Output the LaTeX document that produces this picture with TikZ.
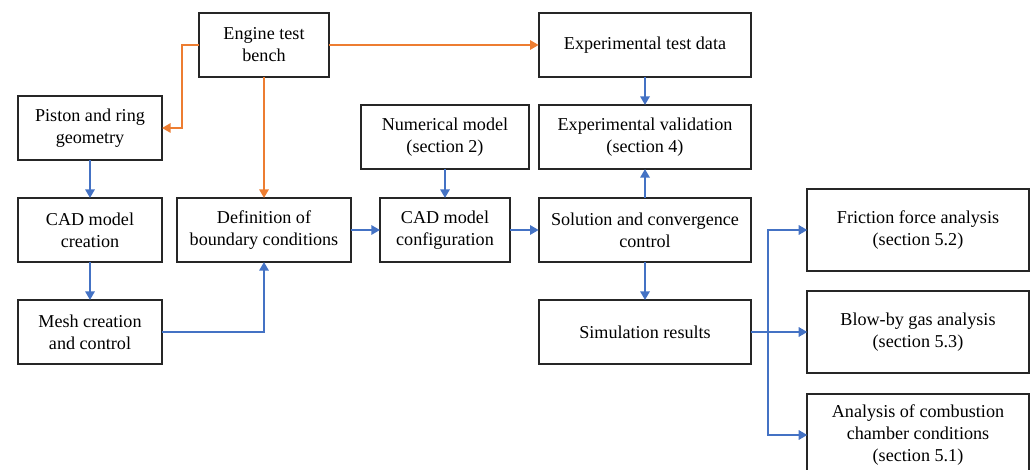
\documentclass[tikz,border=0pt]{standalone}
\usepackage{fontspec}
\setmainfont{Liberation Serif}
\usepackage{xcolor}
\usetikzlibrary{positioning,arrows.meta}

\definecolor{flowblue}{RGB}{68,114,196}
\definecolor{floworange}{RGB}{237,125,49}

\begin{document}
\begin{tikzpicture}[
  x=0.75pt, y=-0.75pt,
  font=\fontsize{13.6}{16.5}\selectfont,
  box/.style    = {draw=black!85, line width=1.3pt, align=center,
                   minimum height=48pt, inner sep=2pt, outer sep=0pt},
  res/.style    = {box, minimum width=166pt, minimum height=61pt},
  flow/.style   = {-{Triangle[length=6.5pt,width=7pt]}, line width=1.6pt, flowblue},
  test/.style   = {flow, floworange},
]
\useasboundingbox (0,0) rectangle (1032,470);

% ---------- left column ----------
\node[box, minimum width=97pt] at (264,45) (bench) {Engine test\\bench};
\node[box, minimum width=108pt] at (90,128) (geom) {Piston and ring\\geometry};
\node[box, minimum width=108pt] at (90,230) (cad) {CAD model\\creation};
\node[box, minimum width=108pt] at (90,332) (mesh) {Mesh creation\\and control};
\node[box, minimum width=131pt] at (264,230) (bc) {Definition of\\boundary conditions};

% ---------- middle ----------
\node[box, minimum width=97.5pt] at (445,230) (config) {CAD model\\configuration};
\node[box, minimum width=125.5pt] at (445,137) (num) {Numerical model\\(section 2)};
\node[box, minimum width=159.5pt] at (645,230) (solve) {Solution and convergence\\control};
\node[box, minimum width=159.5pt] at (645,137) (valid) {Experimental validation\\(section 4)};
\node[box, minimum width=159.5pt] at (645,45) (data) {Experimental test data};
\node[box, minimum width=159.5pt] at (645,332) (sim) {Simulation results};

% ---------- results ----------
\node[res] at (918,230) (fric) {Friction force analysis\\(section 5.2)};
\node[res] at (918,332) (blow) {Blow-by gas analysis\\(section 5.3)};
\node[res] at (918,435) (comb) {Analysis of combustion\\chamber conditions\\(section 5.1)};

% ---------- connectors ----------
\draw[test] (bench.west) -- ++(-12.75pt,0) |- (geom.east);
\draw[test] (bench.east) -- (data.west);
\draw[test] (bench.south) -- (bc.north);

\draw[flow] (geom) -- (cad);
\draw[flow] (cad) -- (mesh);
\draw[flow] (mesh.east) -| (bc.south);
\draw[flow] (bc) -- (config);
\draw[flow] (num) -- (config);
\draw[flow] (config) -- (solve);
\draw[flow] (data) -- (valid);
\draw[flow] (solve) -- (valid);
\draw[flow] (solve) -- (sim);

\coordinate[right=12.75pt of sim.east] (split);
\draw[line width=1.6pt, flowblue] (sim.east) -- (split);
\draw[flow] (split) |- (fric.west);
\draw[flow] (split) -- (blow.west);
\draw[flow] (split) |- (comb.west);
\end{tikzpicture}
\end{document}
